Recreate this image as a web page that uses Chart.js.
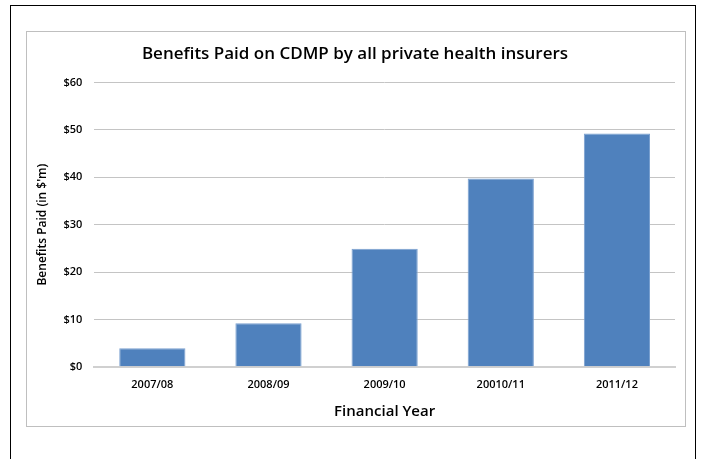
<!DOCTYPE html>
<html>
<head>
<meta charset="utf-8">
<script src="https://cdn.jsdelivr.net/npm/chart.js@4.4.1/dist/chart.umd.min.js"></script>
<style>
  body { margin: 0; background: #fff; }
  #frame { position: absolute; left: 10px; top: 5px; width: 684px; height: 470px; border: 1px solid #000; border-bottom: none; }
  #box { position: absolute; left: 26px; top: 31px; width: 658px; height: 394px; border: 1px solid #bfbfbf; }
  canvas { display: block; }
</style>
</head>
<body>
<div id="frame"></div>
<div id="box"><canvas id="myChart" width="658" height="394"></canvas></div>
<script>
var years = ['2007/08', '2008/09', '2009/10', '20010/11', '2011/12'];
var benefits = [3.9, 9.2, 24.9, 39.7, 49.2];
var yTicks = [0, 10, 20, 30, 40, 50, 60];

var fontFamily = "'Open Sans', 'Noto Sans', sans-serif";

function createBarChart(labels, values) {
    var ctx = document.getElementById('myChart').getContext('2d');
    var myChart = new Chart(ctx, {
        type: 'bar',
        data: {
            labels: labels,
            datasets: [{
                label: 'Benefits Paid',
                data: values,
                backgroundColor: '#4f81bd',
                borderColor: '#7aa0d0',
                borderWidth: 1,
                categoryPercentage: 1,
                barPercentage: 0.57
            }]
        },
        options: {
            responsive: false,
            animation: false,
            layout: { padding: { left: 8, right: 10, top: 6, bottom: 5 } },
            plugins: {
                legend: { display: false },
                tooltip: { enabled: false },
                title: {
                    display: true,
                    text: 'Benefits Paid on CDMP by all private health insurers',
                    color: '#000',
                    font: { family: fontFamily, size: 17, weight: '600' },
                    padding: { top: 6, bottom: 18 }
                }
            },
            scales: {
                x: {
                    grid: { display: false },
                    border: { color: '#d0d0d0', width: 2 },
                    ticks: { color: '#000', font: { family: fontFamily, size: 11, weight: '600' }, padding: 3 },
                    title: {
                        display: true,
                        text: 'Financial Year',
                        color: '#000',
                        font: { family: fontFamily, size: 15, weight: '600' },
                        padding: { top: 9, bottom: 0 }
                    }
                },
                y: {
                    min: 0,
                    max: 60,
                    afterBuildTicks: function (axis) {
                        axis.ticks = yTicks.map(function (v) { return { value: v }; });
                    },
                    grid: { color: '#c4c4c4', lineWidth: 1, drawTicks: false },
                    border: { display: false },
                    ticks: {
                        color: '#000',
                        font: { family: fontFamily, size: 11, weight: '600' },
                        padding: 12,
                        callback: function (v) { return '$' + v; }
                    },
                    title: {
                        display: true,
                        text: "Benefits Paid (in $'m)",
                        color: '#000',
                        font: { family: fontFamily, size: 12, weight: '600' },
                        padding: { top: 0, bottom: 2 }
                    }
                }
            }
        }
    });
}

createBarChart(years, benefits);
</script>
</body>
</html>
